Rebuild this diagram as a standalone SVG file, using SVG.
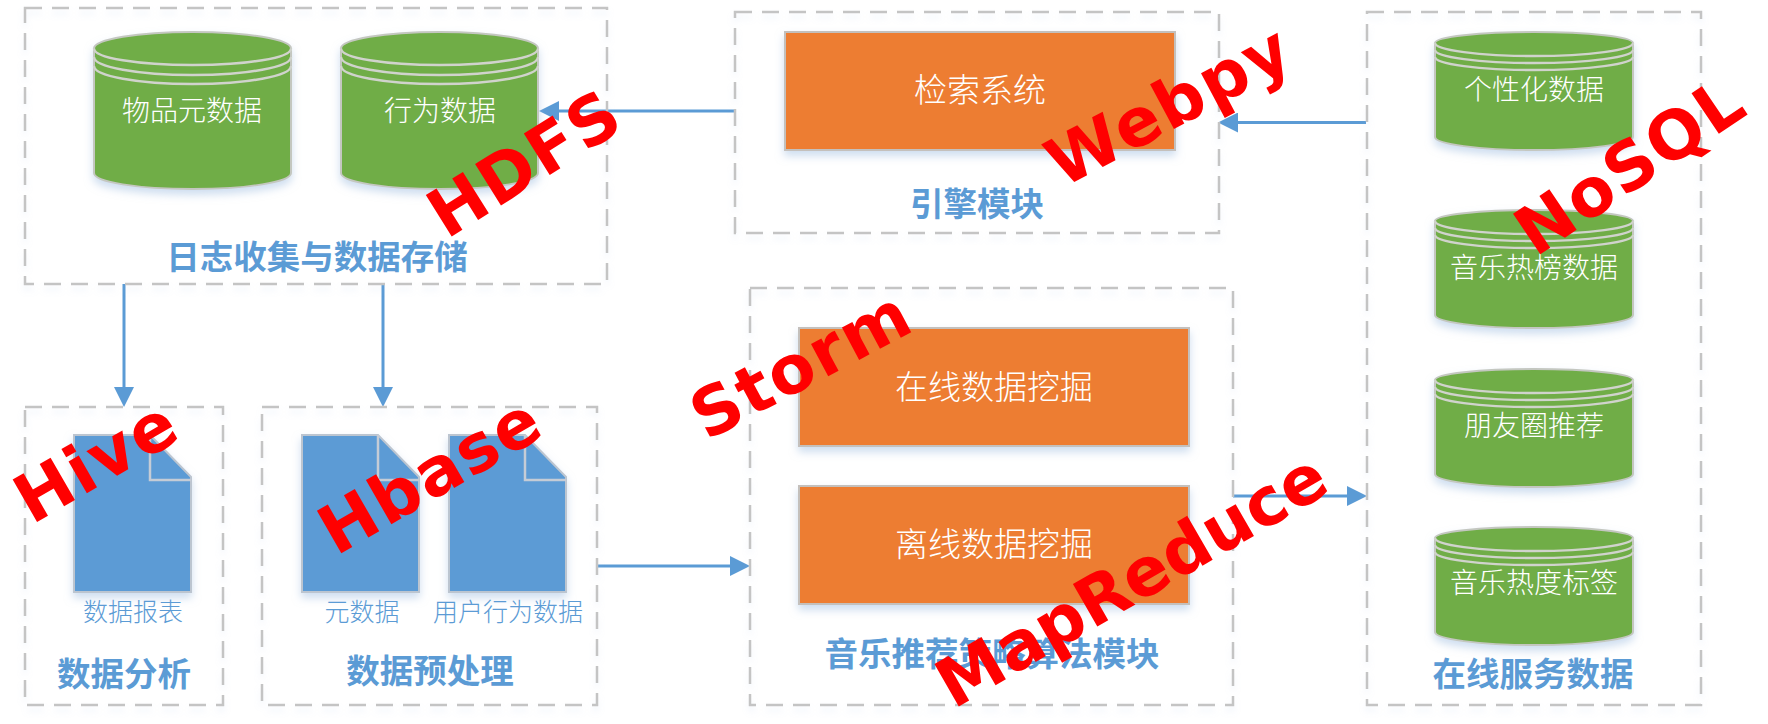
<svg xmlns="http://www.w3.org/2000/svg" width="1768" height="724" viewBox="0 0 1768 724">
<style>
text{font-family:"Noto Sans CJK SC","Liberation Sans",sans-serif;text-anchor:middle}
.box{fill:none;stroke:#c4c4c4;stroke-width:2.5;stroke-dasharray:17 10;filter:url(#bs)}
.shape{filter:url(#sh)}
.in{fill:#fff;font-size:28px;font-weight:300}
.big{fill:#fff;font-size:33px;font-weight:300}
.cap{fill:#5b9bd5;font-size:25px;font-weight:300}
.title{fill:#5b9bd5;font-size:33.500px;font-weight:700}
.red{fill:#f00;font-family:"DejaVu Sans",sans-serif;font-weight:700;font-size:67px;letter-spacing:2px}
.conn{stroke:#5b9bd5;stroke-width:3;fill:none;marker-end:url(#ah)}
.rect{fill:#ed7d31;stroke:#c4c0bc;stroke-width:2}
.doc{fill:#5b9bd5;stroke:#bcc5d0;stroke-width:2}
.cylb{fill:#70ad47;stroke:#c4c7c0;stroke-width:2}
.cyll{fill:none;stroke:#d0d3cc;stroke-width:2.500}
</style>
<defs>
<filter id="sh" x="-10%" y="-10%" width="120%" height="125%"><feDropShadow dx="0" dy="5" stdDeviation="4" flood-color="#9dbbe0" flood-opacity=".5"/></filter>
<filter id="bs" x="-5%" y="-5%" width="110%" height="110%"><feDropShadow dx="0" dy="5" stdDeviation="3" flood-color="#9dbbe0" flood-opacity=".18"/></filter>
<marker id="ah" markerUnits="userSpaceOnUse" markerWidth="20" markerHeight="20" viewBox="0 0 19 19" refX="0" refY="9.5" orient="auto"><path d="M0 0L19 9.500L0 19Z" fill="#5b9bd5"/></marker>
<g id="cylL" class="shape">
<path class="cylb" d="M0 16.500C0 7 44 0 98.500 0S197 7 197 16.500V141C197 150 153 157 98.500 157S0 150 0 141Z"/>
<path class="cyll" d="M0 16.500C0 26 44 33 98.500 33S197 26 197 16.500M0 25C0 35 44 43 98.500 43S197 35 197 25M0 34C0 44 44 52 98.500 52S197 44 197 34"/>
</g>
<g id="cylR" class="shape">
<path class="cylb" d="M0 11C0 5 44 0 99 0S198 5 198 11V105C198 112 154 118 99 118S0 112 0 105Z"/>
<path class="cyll" d="M0 11C0 18 44 24 99 24S198 18 198 11M0 18C0 25 44 31 99 31S198 25 198 18M0 25C0 32 44 38 99 38S198 32 198 25"/>
</g>
<g id="docS" class="shape">
<path class="doc" d="M0 0H76L117 42V157H0Z"/>
<path d="M76 0V45H117" fill="none" stroke="#c5ccd6" stroke-width="2.500"/>
</g>
</defs>
<rect width="1768" height="724" fill="#fff"/>

<g id="connectors">
<line class="conn" x1="735" y1="111" x2="559" y2="111"/>
<line class="conn" x1="1366" y1="122.500" x2="1238" y2="122.500"/>
<line class="conn" x1="124" y1="284" x2="124" y2="387"/>
<line class="conn" x1="383" y1="284" x2="383" y2="387"/>
<line class="conn" x1="598" y1="566" x2="730" y2="566"/>
<line class="conn" x1="1233" y1="496" x2="1347" y2="496"/>
</g>

<g id="log-storage">
<rect class="box" x="25" y="8" width="582" height="276"/>
<g id="cyl-item"><use href="#cylL" x="94" y="32"/><text class="in" x="192" y="121">物品元数据</text></g>
<g id="cyl-behavior"><use href="#cylL" x="341" y="32"/><text class="in" x="440" y="121">行为数据</text></g>
<text class="title" x="317" y="269">日志收集与数据存储</text>
</g>

<g id="engine">
<rect class="box" x="735" y="12" width="484" height="221"/>
<rect class="rect shape" x="785" y="32" width="390" height="118"/>
<text class="big" x="980" y="102">检索系统</text>
<text class="title" x="977" y="216">引擎模块</text>
</g>

<g id="analysis">
<rect class="box" x="25" y="407" width="198" height="298"/>
<use href="#docS" x="74" y="435"/>
<text class="cap" x="133" y="621">数据报表</text>
<text class="title" x="124" y="686">数据分析</text>
</g>

<g id="preprocess">
<rect class="box" x="262" y="407" width="335" height="298"/>
<use href="#docS" x="302" y="435"/>
<use href="#docS" x="449" y="435"/>
<text class="cap" x="362" y="621">元数据</text>
<text class="cap" x="508" y="621">用户行为数据</text>
<text class="title" x="430" y="683">数据预处理</text>
</g>

<g id="algorithm">
<rect class="box" x="750" y="288" width="483" height="417"/>
<rect class="rect shape" x="799" y="328" width="390" height="118"/>
<text class="big" x="994" y="399">在线数据挖掘</text>
<rect class="rect shape" x="799" y="486" width="390" height="118"/>
<text class="big" x="994" y="556">离线数据挖掘</text>
<text class="title" x="992" y="666">音乐推荐策略算法模块</text>
</g>

<g id="online">
<rect class="box" x="1367" y="12" width="334" height="693"/>
<g id="cyl-1"><use href="#cylR" x="1435" y="32"/><text class="in" x="1534" y="100">个性化数据</text></g>
<g id="cyl-2"><use href="#cylR" x="1435" y="210"/><text class="in" x="1534" y="278">音乐热榜数据</text></g>
<g id="cyl-3"><use href="#cylR" x="1435" y="369"/><text class="in" x="1534" y="436">朋友圈推荐</text></g>
<g id="cyl-4"><use href="#cylR" x="1435" y="527"/><text class="in" x="1534" y="593">音乐热度标签</text></g>
<text class="title" x="1533" y="686">在线服务数据</text>
</g>

<g id="overlay">
<text class="red" transform="translate(537 183) rotate(-32)">HDFS</text>
<text class="red" transform="translate(1180 126) rotate(-28)">Webpy</text>
<text class="red" transform="translate(1643 185) rotate(-34)">NoSQL</text>
<text class="red" transform="translate(812 385) rotate(-28)">Storm</text>
<text class="red" transform="translate(108 481) rotate(-30)">Hive</text>
<text class="red" transform="translate(442 495) rotate(-30)">Hbase</text>
<text class="red" style="letter-spacing:0" transform="translate(1143 600) rotate(-30)">MapReduce</text>
</g>
</svg>
